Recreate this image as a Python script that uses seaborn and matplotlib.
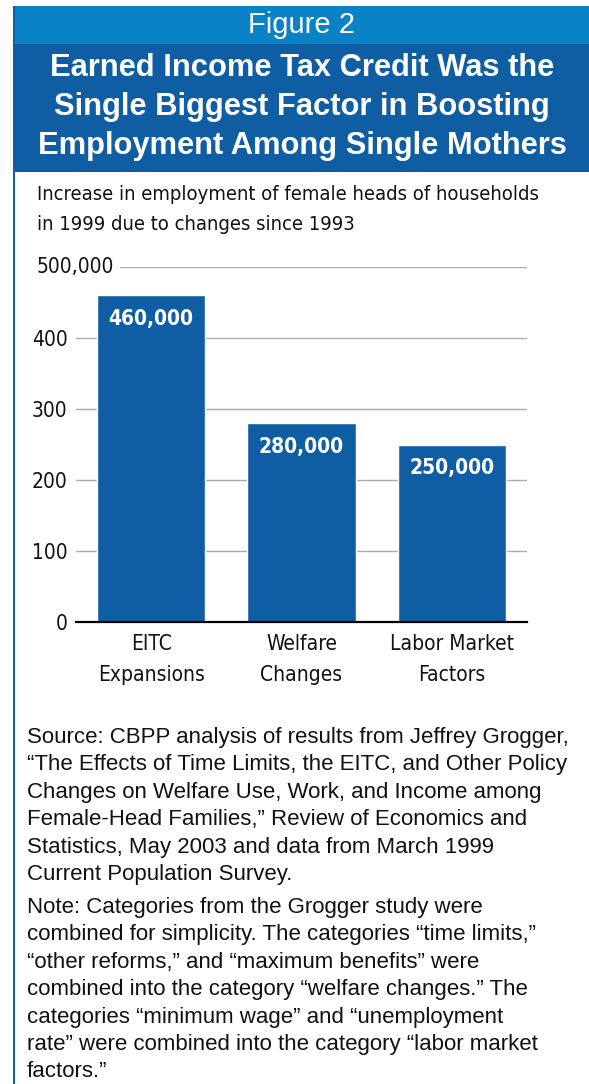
import matplotlib
matplotlib.use("Agg")
import matplotlib.pyplot as plt
import matplotlib.transforms as mtransforms
from matplotlib.patches import Rectangle
import seaborn as sns
import pandas as pd

# -----------------------------------------
# Data
# -----------------------------------------
categories = ["EITC\nExpansions", "Welfare\nChanges", "Labor Market\nFactors"]
values = [460000, 280000, 250000]
value_labels = ["460,000", "280,000", "250,000"]
y_ticks = [0, 100000, 200000, 300000, 400000, 500000]
y_tick_labels = ["0", "100", "200", "300", "400", "500,000"]

fig_label = "Figure 2"
title = ("Earned Income Tax Credit Was the\n"
         "Single Biggest Factor in Boosting\n"
         "Employment Among Single Mothers")
subtitle = ("Increase in employment of female heads of households\n"
            "in 1999 due to changes since 1993")
source = ("Source: CBPP analysis of results from Jeffrey Grogger,\n"
          "\u201cThe Effects of Time Limits, the EITC, and Other Policy\n"
          "Changes on Welfare Use, Work, and Income among\n"
          "Female-Head Families,\u201d Review of Economics and\n"
          "Statistics, May 2003 and data from March 1999\n"
          "Current Population Survey.")
note = ("Note: Categories from the Grogger study were\n"
        "combined for simplicity. The categories \u201ctime limits,\u201d\n"
        "\u201cother reforms,\u201d and \u201cmaximum benefits\u201d were\n"
        "combined into the category \u201cwelfare changes.\u201d The\n"
        "categories \u201cminimum wage\u201d and \u201cunemployment\n"
        "rate\u201d were combined into the category \u201clabor market\n"
        "factors.\u201d")

# -----------------------------------------
# Style
# -----------------------------------------
W, H = 589, 1084
LIGHT_BLUE = "#0A82C6"
DARK_BLUE = "#0F5EA3"
BAR_BLUE = "#0F5EA3"
GRID = "#ABABAB"
TEXT = "#111111"
COND = dict(family="DejaVu Sans", fontstretch="condensed")
CHART_FS = 15

sns.set_theme(style="white")
plt.rcParams["font.family"] = ["Liberation Sans", "DejaVu Sans"]
plt.rcParams["text.color"] = TEXT


def fx(x):
    return x / W


def fy(y):
    return 1 - y / H


fig = plt.figure(figsize=(W / 100, H / 100), dpi=100)
fig.patch.set_facecolor("white")

# header bands + left border
fig.add_artist(Rectangle((fx(13), fy(44)), fx(589) - fx(13), fy(6) - fy(44),
                         transform=fig.transFigure, color=LIGHT_BLUE, lw=0))
fig.add_artist(Rectangle((fx(13), fy(172)), fx(589) - fx(13), fy(44) - fy(172),
                         transform=fig.transFigure, color=DARK_BLUE, lw=0))
fig.add_artist(Rectangle((fx(13), fy(1084)), fx(15) - fx(13), fy(6) - fy(1084),
                         transform=fig.transFigure, color=DARK_BLUE, lw=0))

fig.text(fx(301), fy(25), fig_label, color="white", fontsize=21,
         ha="center", va="center")
fig.text(fx(302), fy(107), title, color="white", fontsize=22.2, fontweight="bold",
         ha="center", va="center", linespacing=1.38)

fig.text(fx(37), fy(185), subtitle, fontsize=14.5, ha="left", va="top",
         linespacing=1.7, **COND)

# -----------------------------------------
# Bar chart
# -----------------------------------------
df = pd.DataFrame({"category": categories, "value": values})
ax = fig.add_axes([fx(76), fy(622), fx(527) - fx(76), fy(267) - fy(622)])
sns.barplot(data=df, x="category", y="value", color=BAR_BLUE, saturation=1,
            width=0.72, ax=ax)

ax.set_xlim(-0.5, 2.5)
ax.set_ylim(0, 500000)
ax.set_yticks(y_ticks)
ax.set_yticklabels(y_tick_labels[:-1] + [""], fontsize=CHART_FS, **COND)
ax.set_xticks(range(len(categories)))
ax.set_xticklabels(categories, fontsize=CHART_FS, linespacing=1.68, **COND)
ax.set_xlabel("")
ax.set_ylabel("")
ax.tick_params(axis="both", length=0, colors=TEXT)
ax.tick_params(axis="y", pad=6)
ax.tick_params(axis="x", pad=8.5)
ax.set_axisbelow(True)
ax.yaxis.grid(True, color=GRID, lw=1.0)
ax.xaxis.grid(False)
for side in ["left", "right", "top"]:
    ax.spines[side].set_visible(False)
ax.spines["bottom"].set_color("black")
ax.spines["bottom"].set_linewidth(1.6)
ax.patch.set_alpha(0)

# the wide top label starts at the left edge, its gridline starts after it
trans = mtransforms.blended_transform_factory(fig.transFigure, ax.transData)
ax.text(fx(37), y_ticks[-1], y_tick_labels[-1], transform=trans, ha="left",
        va="center", fontsize=CHART_FS, clip_on=False,
        bbox=dict(facecolor="white", edgecolor="none", pad=4), **COND)

labels = ax.bar_label(ax.containers[0], labels=value_labels, padding=-17,
                      color="white", fontweight="bold", fontsize=CHART_FS,
                      **COND)
for t in labels:
    t.set_verticalalignment("center")

# -----------------------------------------
# Source and note
# -----------------------------------------
fig.text(fx(27), fy(727), source, fontsize=16, ha="left", va="top",
         linespacing=1.4)
fig.text(fx(27), fy(897), note, fontsize=16, ha="left", va="top",
         linespacing=1.4)

fig.savefig("out.png", dpi=100)
